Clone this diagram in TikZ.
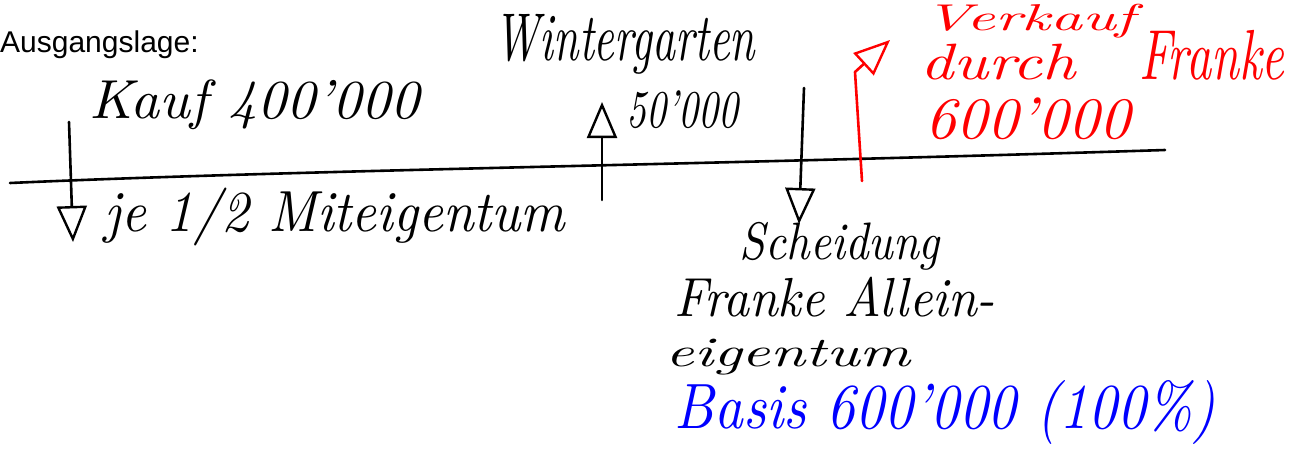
\documentclass[tikz,border=0pt]{standalone}
\usepackage{fontspec}
\usepackage{graphicx}
\newfontfamily\armfont{Liberation Sans}
\usetikzlibrary{arrows.meta}
\newcommand\hwtext[3]{\resizebox*{#1pt}{#2pt}{\itshape #3}}
\tikzset{
  ink/.style={line width=2.6pt, line cap=round, line join=round},
  openhead/.style={-{Triangle[open, length=36pt, width=30pt, line width=2.4pt]}},
  hw/.style={inner sep=0pt, anchor=center},
}
\begin{document}
\begin{tikzpicture}[x=1pt,y=-1pt]
\useasboundingbox (0,0) rectangle (1298,450);
\node[inner sep=0pt, anchor=base west] (title) at (0,52) {\fontsize{30}{34}\selectfont\armfont Ausgangslage:};

% timeline
\coordinate (t0) at (10,183);
\coordinate (t1) at (1165,150);
\draw[ink] (t0) .. controls (300,170) and (700,165) .. (t1);

% arrow 1 (Kauf)
\coordinate (a1s) at (69,122);
\coordinate (a1e) at (73,242);
\draw[ink, openhead] (a1s) -- (a1e);

% arrow 2 (Wintergarten)
\coordinate (a2s) at (602,200);
\coordinate (a2e) at (602,102);
\draw[ink, openhead] (a2s) -- (a2e);

% arrow 3 (Scheidung)
\coordinate (a3s) at (804,88);
\coordinate (a3e) at (799,224);
\draw[ink, openhead] (a3s) -- (a3e);

% red arrow (Verkauf)
\coordinate (r0) at (862,181);
\coordinate (r1) at (855,72);
\coordinate (r2) at (890,40);
\draw[ink, red, openhead] (r0) -- (r1) -- (r2);

% black handwritten labels
\node[hw] (kauf) at (255,105) {\hwtext{330}{50}{Kauf 400'000}};
\node[hw] (je) at (335,217) {\hwtext{460}{58}{je 1/2 Miteigentum}};
\node[hw] (winter) at (625,44) {\hwtext{260}{60}{Wintergarten}};
\node[hw] (fifty) at (682,110) {\hwtext{112}{38}{50'000}};
\node[hw] (scheid) at (840,246) {\hwtext{200}{48}{Scheidung}};
\node[hw] (franke) at (835,297) {\hwtext{320}{40}{Franke Allein-}};
\node[hw] (eigen) at (788,357) {\hwtext{245}{36}{eigentum}};

% blue
\node[hw, blue] (basis) at (945,412) {\hwtext{540}{64}{Basis 600'000 (100\%)}};

% red labels
\node[hw, red] (verk) at (1030,21) {\hwtext{210}{34}{Verkauf}};
\node[hw, red] (durch) at (998,62) {\hwtext{155}{36}{durch}};
\node[hw, red] (frk) at (1212,55) {\hwtext{145}{50}{Franke}};
\node[hw, red] (six) at (1028,119) {\hwtext{205}{42}{600'000}};
\end{tikzpicture}
\end{document}
